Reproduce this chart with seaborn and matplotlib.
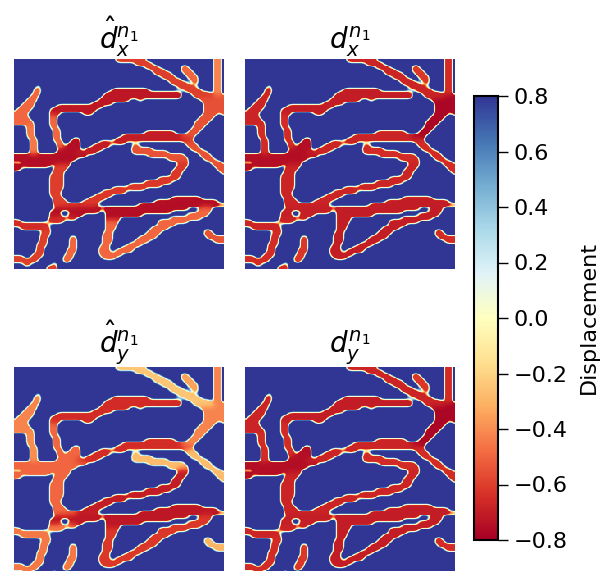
import numpy as np
import matplotlib
matplotlib.use('Agg')
import matplotlib.pyplot as plt
import seaborn as sns

# vessel cells per grid row (64 x 64 cells), "startcol-endcol + segment letter"
vessel_rows = [
    "31-39A 61-62C",
    "37-41A 61-62C",
    "40-43A 51-52B 61-62C",
    "42-45A 51-53B 61-62C",
    "43-47A 52-54B 61-62C",
    "45-48A 53-55B 61-62C",
    "47-50A 54-55B 61-62C",
    "48-52A 55-55B 61-62C",
    "7-7I 50-54A 61-62C",
    "6-7I 30-40E 52-56A 61-62C",
    "6-7I 28-50E 54-59A 61-62C",
    "5-6I 27-50E 55-60A 61-63D",
    "4-6I 26-34E 38-38E 57-63D",
    "3-5I 24-29E 58-63D",
    "2-5I 13-26E 58-63D",
    "1-4I 11-24E 58-63D",
    "0-3I 11-13E 21-23E 58-61D 63-63D",
    "0-3I 11-12F 57-60D",
    "0-4I 11-12F 56-59D",
    "0-5I 11-12F 55-58D",
    "4-5J 11-12F 55-57D",
    "4-5J 12-13F 54-56D",
    "4-5J 12-13F 40-48G 53-55D",
    "4-5J 12-13F 33-51G 51-54D",
    "5-6J 12-13F 18-19K 31-53G",
    "5-6J 13-14F 17-19K 26-33G 52-54H",
    "5-6J 13-14F 16-19K 24-28G 36-37M 53-55H",
    "5-6J 14-19K 22-26G 36-41M 54-56H",
    "5-6J 13-19K 19-24G 36-46M 56-58H",
    "0-21K 41-51M 57-59H",
    "0-18K 47-52M 58-60H",
    "3-16K 50-52N 60-62H",
    "0-10K 13-16L 50-52N 61-63H",
    "0-1K 12-15L 49-51N 62-63H",
    "12-14L 48-50N 63-63H",
    "11-14L 48-50N",
    "11-14L 44-49N",
    "11-14L 40-47N",
    "11-14L 35-44N",
    "11-14L 30-39N",
    "11-13L 27-33N",
    "11-13L 25-29N",
    "12-14L 23-27N 48-56O",
    "12-15L 21-25N 43-61O",
    "12-18L 19-24N 38-63O",
    "13-26O 27-52O 57-59R",
    "11-13O 17-25O 28-47O 56-59R",
    "11-13O 17-20O 28-38O 53-58R",
    "11-18P 28-31O 48-56R",
    "0-1P 10-14P 28-31R 44-52R",
    "0-9P 28-30R 44-48R",
    "2-10P 28-30R 42-46R",
    "9-10Q 28-29R 41-44R 58-59T",
    "8-10Q 27-29R 40-43R 58-60T",
    "8-9Q 17-18S 27-29R 38-42R 59-63T",
    "8-9Q 17-18S 27-29R 37-40R 61-63T",
    "7-9Q 17-18S 27-28R 35-38R",
    "7-8Q 17-18S 26-28R 33-36R",
    "7-8Q 16-18S 26-28R 31-35R",
    "6-8Q 16-17S 26-32R",
    "0-2Q 5-7Q 15-17S 27-30R",
    "0-6Q 15-16S",
    "3-4Q 12-12U",
    "10-12U",
]

segments = list("ABCDEFGHIJKLMNOPQRSTU")
hat_x_levels = [-0.60, -0.50, -0.42, -0.55, -0.72, -0.50, -0.70, -0.55, -0.50, -0.45, -0.75,
                -0.60, -0.55, -0.62, -0.75, -0.65, -0.60, -0.50, -0.50, -0.55, -0.60]
true_levels = [-0.68, -0.62, -0.65, -0.78, -0.70, -0.65, -0.68, -0.65, -0.68, -0.65, -0.75,
               -0.68, -0.65, -0.68, -0.70, -0.68, -0.65, -0.70, -0.62, -0.65, -0.65]
hat_y_levels = [-0.25, -0.35, -0.42, -0.42, -0.65, -0.50, -0.65, -0.28, -0.42, -0.40, -0.50,
                -0.50, -0.28, -0.70, -0.72, -0.45, -0.45, -0.62, -0.45, -0.30, -0.45]
background = 0.8

titles = [r'$\hat{d}_x^{n_1}$', r'$d_x^{n_1}$', r'$\hat{d}_y^{n_1}$', r'$d_y^{n_1}$']
cbar_ticks = [-0.8, -0.6, -0.4, -0.2, 0.0, 0.2, 0.4, 0.6, 0.8]


def build_grid(levels):
    lookup = dict(zip(segments, levels))
    grid = np.full((64, 64), background)
    for r, row in enumerate(vessel_rows):
        for run in row.split():
            start, end = run[:-1].split('-')
            grid[r, int(start):int(end) + 1] = lookup[run[-1]]
    return grid


def box_blur(img, k):
    pad = k // 2
    kernel = np.ones(k) / k
    img = np.pad(img, pad, mode='edge')
    img = np.apply_along_axis(lambda v: np.convolve(v, kernel, mode='same'), 0, img)
    img = np.apply_along_axis(lambda v: np.convolve(v, kernel, mode='same'), 1, img)
    return img[pad:-pad, pad:-pad]


def smooth_display(grid, factor=4, cut=0.43, ramp=0.3):
    # rounds the cell staircase and leaves the light ring along vessel edges
    big = np.kron(grid, np.ones((factor, factor)))
    mask = (big < background).astype(float)
    soft = box_blur(box_blur(mask, 7), 7)
    inside = box_blur(box_blur(big * mask, 7), 7) / np.maximum(soft, 1e-3)
    alpha = np.clip((soft - cut) / ramp + 0.5, 0, 1)
    return background * (1 - alpha) + inside * alpha


sns.set_style('white')
plt.rcParams['font.family'] = 'DejaVu Sans'
plt.rcParams['mathtext.fontset'] = 'dejavusans'
plt.rcParams['text.color'] = 'black'
plt.rcParams['axes.labelcolor'] = 'black'
plt.rcParams['xtick.color'] = 'black'
plt.rcParams['ytick.color'] = 'black'

fig = plt.figure(figsize=(6, 5.71), dpi=100)

W, H = 600.0, 571.0
panel_size = 210
# left, top of each panel in pixels; the bottom row runs past the figure edge
panel_spots = [(14, 59), (245, 59), (14, 367), (245, 367)]
panel_levels = [hat_x_levels, true_levels, hat_y_levels, true_levels]
cmap = sns.color_palette('RdYlBu', as_cmap=True)

cax = fig.add_axes([474 / W, 1 - 540 / H, 24 / W, 444 / H])

for i, (spot, levels, title) in enumerate(zip(panel_spots, panel_levels, titles)):
    ax = fig.add_axes([spot[0] / W, 1 - (spot[1] + panel_size) / H, panel_size / W, panel_size / H])
    sns.heatmap(smooth_display(build_grid(levels)), ax=ax, cmap=cmap, vmin=-0.8, vmax=0.8,
                xticklabels=False, yticklabels=False, cbar=i == 0, cbar_ax=cax if i == 0 else None,
                rasterized=True)
    ax.set_title(title, fontsize=20, pad=6)

cbar = fig.axes[1].collections[0].colorbar
cbar.set_ticks(cbar_ticks)
cbar.ax.tick_params(labelsize=16, length=7.5, width=1, right=True, pad=4)
cbar.outline.set_visible(True)
cbar.outline.set_linewidth(1.5)
cbar.outline.set_edgecolor('black')
cbar.set_label('Displacement', fontsize=16, labelpad=8)

fig.savefig('out.png', dpi=100)
